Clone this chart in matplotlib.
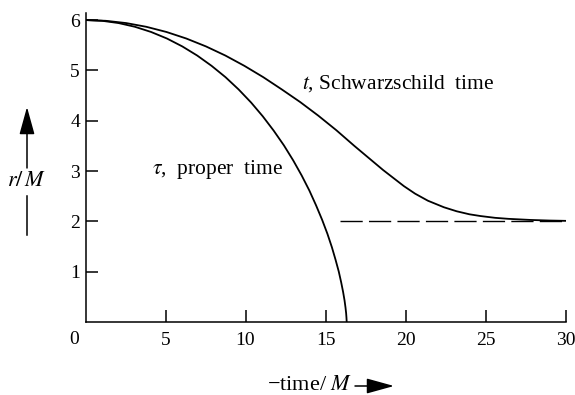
import matplotlib
matplotlib.use('Agg')
import matplotlib.pyplot as plt
from matplotlib.patches import FancyArrowPatch
from matplotlib.lines import Line2D

plt.rcParams['font.family'] = ['Liberation Serif', 'DejaVu Serif']
plt.rcParams['mathtext.fontset'] = 'stix'
plt.rcParams['font.size'] = 14

# proper time curve (tau, r)
tau_time = [0, 1.04, 2.07, 3.09, 4.10, 5.09, 6.05, 6.98, 7.88, 8.75,
            9.57, 10.35, 11.08, 11.76, 12.40, 12.98, 13.51, 13.99, 14.41, 14.79,
            15.12, 15.40, 15.63, 15.83, 15.98, 16.10, 16.19, 16.25, 16.29, 16.31,
            16.32, 16.324]
tau_r = [6, 5.985, 5.94, 5.866, 5.763, 5.633, 5.476, 5.295, 5.09, 4.865,
         4.621, 4.361, 4.087, 3.803, 3.51, 3.212, 2.912, 2.613, 2.318, 2.03,
         1.752, 1.485, 1.235, 1.001, 0.788, 0.597, 0.429, 0.288, 0.173, 0.087,
         0.03, 0]

# Schwarzschild time curve (t, r)
t_time = [0, 1.27, 2.54, 3.80, 5.06, 6.30, 7.53, 8.74, 9.93, 11.11,
          12.27, 13.42, 14.55, 15.68, 16.80, 17.40, 18.00, 18.60, 19.25, 19.90,
          20.60, 21.40, 22.40, 23.20, 24.00, 24.70, 25.60, 26.43, 27.81, 29.0,
          30.0]
t_r = [6, 5.985, 5.94, 5.866, 5.763, 5.633, 5.476, 5.295, 5.09, 4.865,
       4.621, 4.37, 4.10, 3.81, 3.50, 3.34, 3.18, 3.02, 2.86, 2.70,
       2.55, 2.41, 2.28, 2.20, 2.14, 2.105, 2.07, 2.05, 2.028, 2.016,
       2.010]

# horizon r = 2M (dashed)
horizon_time = [15.9, 30]
horizon_r = [2, 2]

x_ticks = [5, 10, 15, 20, 25, 30]
y_ticks = [1, 2, 3, 4, 5, 6]

W, H = 575, 395


def fig_xy(px, py):
    return px / W, 1 - py / H


fig = plt.figure(figsize=(5.75, 3.95), dpi=100)
ax = fig.add_axes([85.5 / W, 1 - 322 / H, 480 / W, 309.5 / H])

ax.plot(tau_time, tau_r, color='black', lw=1.3)
ax.plot(t_time, t_r, color='black', lw=1.3)
ax.plot(horizon_time, horizon_r, color='black', lw=1.0, dashes=(16, 4.5))

ax.set_xlim(0, 30)
ax.set_ylim(0, 6.15)
ax.spines['top'].set_visible(False)
ax.spines['right'].set_visible(False)
ax.spines['left'].set_linewidth(1.1)
ax.spines['bottom'].set_linewidth(1.1)
ax.set_xticks(x_ticks)
ax.set_yticks(y_ticks)
ax.tick_params(direction='in', length=8.5, width=1.1, labelsize=14)
ax.tick_params(axis='x', pad=7)
ax.tick_params(axis='y', pad=4)

ax.text(13.53, 4.63, r'$t$, Schwarzschild  time', ha='left', va='baseline',
        fontsize=15.5)
ax.text(4.16, 2.94, r'$\tau$,  proper  time', ha='left', va='baseline',
        fontsize=15.5)

# origin label
fig.text(*fig_xy(74, 340), '0', ha='center', va='center')

# y label with arrow
fig.text(*fig_xy(26, 181), r'$r/\,M$', ha='center', va='center', fontsize=16)
fig.add_artist(FancyArrowPatch(fig_xy(27, 168), fig_xy(27, 107),
                               transform=fig.transFigure,
                               arrowstyle='-|>,head_length=1.7,head_width=0.47',
                               mutation_scale=10, lw=1.1, color='black',
                               shrinkA=0, shrinkB=0))
fig.add_artist(Line2D([27 / W, 27 / W], [1 - 196 / H, 1 - 235 / H],
                      transform=fig.transFigure, lw=1.1, color='black'))

# x label with arrow
fig.text(*fig_xy(267, 386), '\u2212time/ $M$', ha='left', va='center',
         fontsize=16)
fig.add_artist(FancyArrowPatch(fig_xy(355, 386), fig_xy(394, 386),
                               transform=fig.transFigure,
                               arrowstyle='-|>,head_length=1.7,head_width=0.47',
                               mutation_scale=10, lw=1.1, color='black',
                               shrinkA=0, shrinkB=0))

fig.savefig('out.png', dpi=100)
